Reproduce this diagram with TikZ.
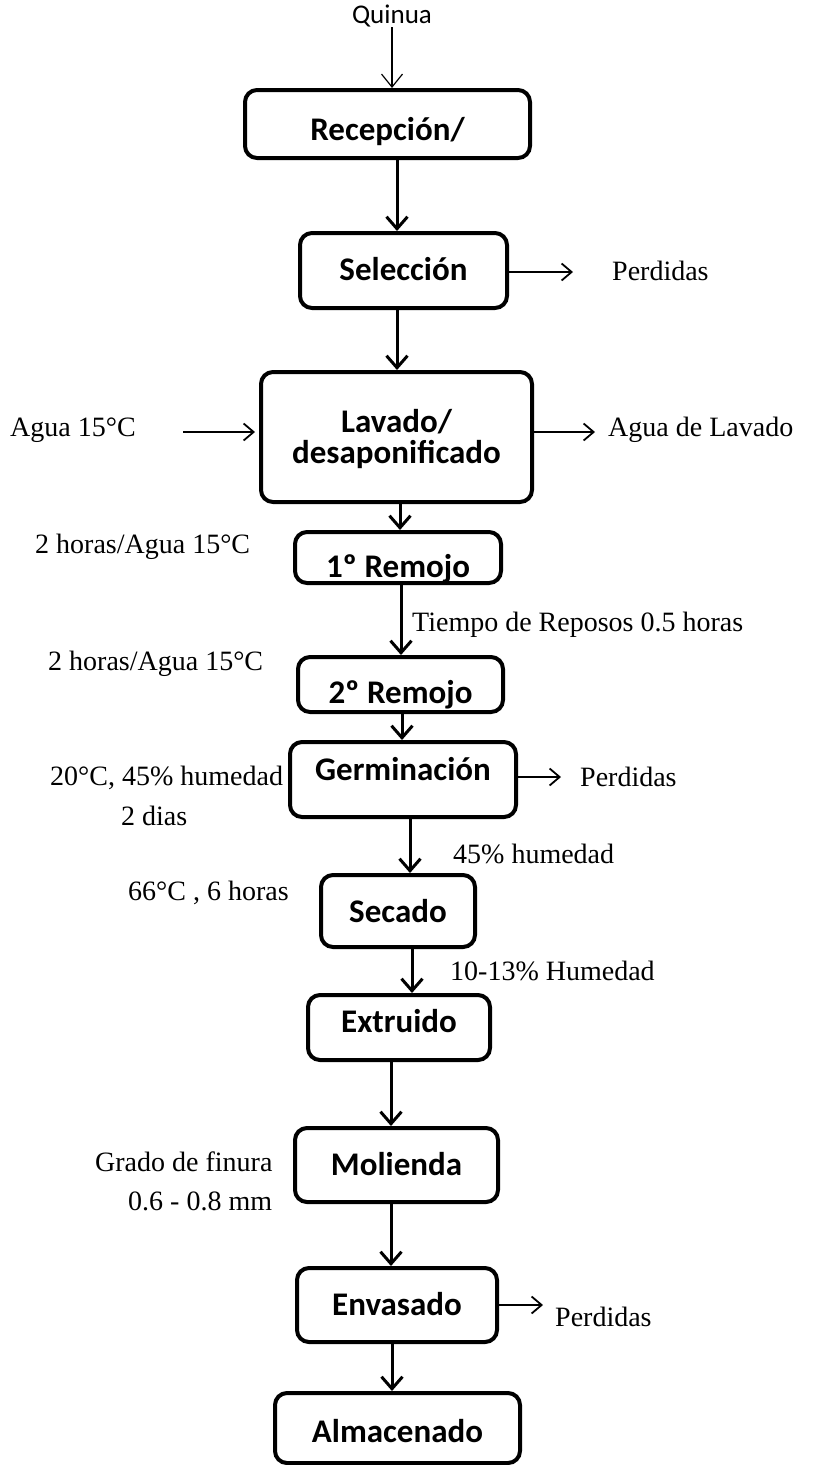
\documentclass[tikz,border=0pt]{standalone}
\usepackage{fontspec}
\setmainfont{Liberation Serif}
\newfontfamily\boxfont{Carlito}
\usetikzlibrary{arrows.meta}
\newcommand\bt[2]{\raisebox{#1}[0pt][0pt]{#2}}
\tikzset{
  box/.style={draw, line width=4pt, rounded corners=12pt, inner sep=0pt,
    font=\boxfont\bfseries\fontsize{33}{27}\selectfont},
  lbl/.style={inner sep=0pt, anchor=west, text height=0.6em, text depth=0pt,
    font=\fontsize{28}{30}\selectfont},
  mainarr/.style={line width=3pt, -{Straight Barb[length=12pt,width=21pt]}},
  sidearr/.style={line width=1.8pt, -{Straight Barb[length=10pt,width=17pt]}},
  thinarr/.style={line width=1.2pt, -{Straight Barb[length=13pt,width=21pt]}},
}
\begin{document}
\begin{tikzpicture}[x=1pt,y=-1pt]
\useasboundingbox (0,0) rectangle (818,1465);
% boxes
\node[box, minimum width=285pt, minimum height=68pt] (rec) at (387.5,124) {\bt{-16.6pt}{Recepción/}};
\node[box, minimum width=207pt, minimum height=75pt] (sel) at (403.5,270.5) {\bt{-10.1pt}{Selección}};
\node[box, minimum width=271pt, minimum height=130pt] (lav) at (396.5,437) {\bt{-26.6pt}{\begin{tabular}[b]{@{}c@{}}Lavado/\\desaponificado\end{tabular}}};
\node[box, minimum width=206pt, minimum height=51pt] (rem1) at (398,557.5) {\bt{-20.1pt}{1º Remojo}};
\node[box, minimum width=205pt, minimum height=55pt] (rem2) at (400.5,684.5) {\bt{-19.1pt}{2º Remojo}};
\node[box, minimum width=226pt, minimum height=75pt] (germ) at (403,779.5) {\bt{-1pt}{Germinación}};
\node[box, minimum width=154pt, minimum height=72pt] (sec) at (398,911) {\bt{-11.6pt}{Secado}};
\node[box, minimum width=182pt, minimum height=65pt] (ext) at (399,1027.5) {\bt{-5.1pt}{Extruido}};
\node[box, minimum width=203pt, minimum height=74pt] (mol) at (396.5,1165) {\bt{-10.6pt}{Molienda}};
\node[box, minimum width=200pt, minimum height=74pt] (env) at (397,1305) {\bt{-10.6pt}{Envasado}};
\node[box, minimum width=245pt, minimum height=70pt] (alm) at (397.5,1428) {\bt{-14.6pt}{Almacenado}};
% input
\node[inner sep=0pt, text height=0.6em, text depth=0pt, font=\boxfont\fontsize{27}{30}\selectfont] (quin) at (392,20) {Quinua};
\draw[thinarr] ([yshift=-4pt]quin.south) -- (quin.south |- rec.north);
% main flow
\draw[mainarr] ([xshift=9.5pt]rec.south) -- ([xshift=9.5pt]rec.south |- sel.north);
\draw[mainarr] ([xshift=-6.5pt]sel.south) -- ([xshift=-6.5pt]sel.south |- lav.north);
\draw[mainarr] ([xshift=3.5pt]lav.south) -- ([xshift=3.5pt]lav.south |- rem1.north);
\draw[mainarr] ([xshift=3pt]rem1.south) -- ([xshift=3pt]rem1.south |- rem2.north);
\draw[mainarr] ([xshift=1.5pt]rem2.south) -- ([xshift=1.5pt]rem2.south |- germ.north);
\draw[mainarr] ([xshift=7pt]germ.south) -- ([xshift=7pt]germ.south |- sec.north);
\draw[mainarr] ([xshift=14pt]sec.south) -- ([xshift=14pt]sec.south |- ext.north);
\draw[mainarr] ([xshift=-8pt]ext.south) -- ([xshift=-8pt]ext.south |- mol.north);
\draw[mainarr] ([xshift=-5.5pt]mol.south) -- ([xshift=-5.5pt]mol.south |- env.north);
\draw[mainarr] ([xshift=-5pt]env.south) -- ([xshift=-5pt]env.south |- alm.north);
% side arrows
\coordinate (pe1) at (573,272);
\coordinate (ai) at (183,432);
\coordinate (ao) at (595,432);
\coordinate (pe2) at (561,777);
\coordinate (pe3) at (543,1305);
\draw[sidearr] (sel.east |- pe1) -- (pe1);
\draw[sidearr, shorten >=4pt] (ai) -- (ai -| lav.west);
\draw[sidearr] (lav.east |- ao) -- (ao);
\draw[sidearr] (germ.east |- pe2) -- (pe2);
\draw[sidearr] (env.east |- pe3) -- (pe3);
% labels
\node[lbl] (l1) at (612,277) {Perdidas};
\node[lbl] (l2) at (10,433) {Agua 15°C};
\node[lbl] (l3) at (608,433) {Agua de Lavado};
\node[lbl] (l4) at (35,550) {2 horas/Agua 15°C};
\node[lbl] (l5) at (412,628) {Tiempo de Reposos 0.5 horas};
\node[lbl] (l6) at (48,667) {2 horas/Agua 15°C};
\node[lbl] (l7) at (50,782) {20°C, 45\% humedad};
\node[lbl] (l8) at (121,822) {2 dias};
\node[lbl] (l9) at (580,783) {Perdidas};
\node[lbl] (l10) at (453,860) {45\% humedad};
\node[lbl] (l11) at (128,897) {66°C , 6 horas};
\node[lbl] (l12) at (450,977) {10-13\% Humedad};
\node[lbl] (l13) at (95,1168) {Grado de finura};
\node[lbl] (l14) at (128,1207) {0.6 - 0.8 mm};
\node[lbl] (l15) at (555,1323) {Perdidas};
\end{tikzpicture}
\end{document}
